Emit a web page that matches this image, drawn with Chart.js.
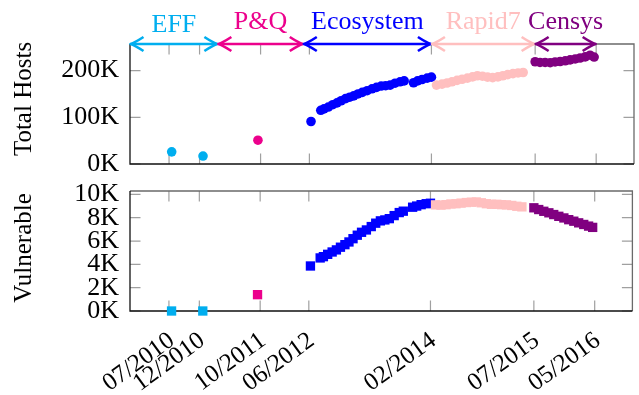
<!DOCTYPE html>
<html><head><meta charset="utf-8">
<script src="https://cdn.jsdelivr.net/npm/chart.js@4/dist/chart.umd.min.js"></script>
<style>
html,body{margin:0;padding:0;background:#fff;}
#wrap{position:relative;width:639px;height:395px;overflow:hidden;background:#fff;}
canvas{position:absolute;left:0;}
</style></head><body>
<div id="wrap">
<canvas id="cTop" width="639" height="180" style="top:0px"></canvas>
<canvas id="cBot" width="639" height="215" style="top:180px"></canvas>
</div>
<script>
// ---------- data ----------
const xTickLabels = ['07/2010','12/2010','10/2011','06/2012','02/2014','07/2015','05/2016'];
const xRange = ['2009-12-19','2016-11-07'];
const hostTicks = [0, 100, 200];      // K
const vulnTicks = [0, 2, 4, 6, 8, 10]; // K
const hostMax = 257;
const vulnMax = 10.29;

const sourceNames  = ['EFF','P&Q','Ecosystem','Rapid7','Censys'];
const sourceColors = ['#00AEEF','#EC008C','#0000FF','#FFBFBF','#800080'];
const sourceSpans  = ['2009-12-19','2011-03-01','2012-05-01','2014-02-01','2015-07-01','2016-05-01'];

const effDates = ['2010-07-14','2010-12-18'];
const effHosts = [26, 17];
const effVuln  = [0, 0];

const pqDates = ['2011-09-18'];
const pqHosts = [51];
const pqVuln  = [1.4];

const ecoDates = ['2012-06-09','2012-07-27','2012-08-13','2012-09-04','2012-09-26','2012-10-17','2012-11-07',
  '2012-11-29','2012-12-19','2013-01-09','2013-01-30','2013-02-21','2013-03-15','2013-04-09','2013-05-01',
  '2013-05-24','2013-06-16','2013-07-08','2013-08-02','2013-08-27','2013-09-17','2013-11-03','2013-11-23',
  '2013-12-15','2014-01-10','2014-02-01'];
const ecoHosts = [91,115,118,122,127,131,135.5,140,143,146,150,153.5,157,161,164,167,167.7,169,173,176,178,
  174,178,181,184,186];
const ecoVuln = [3.86,4.55,4.66,4.86,5.06,5.24,5.47,5.69,5.92,6.2,6.5,6.75,6.95,7.24,7.53,7.73,7.81,7.92,
  8.18,8.44,8.56,8.9,9.0,9.12,9.2,9.24];

const r7Dates = ['2014-02-26','2014-03-23','2014-04-18','2014-05-12','2014-06-07','2014-07-02','2014-07-28',
  '2014-08-23','2014-09-17','2014-10-12','2014-11-07','2014-12-02','2014-12-28','2015-01-22','2015-02-16',
  '2015-03-12','2015-04-07','2015-05-02'];
const r7Hosts = [169,171,173.5,176,179,181.5,184,186.5,189,188,186,185,186.5,189,191.5,193.5,195,196];
const r7Vuln  = [9.1,9.08,9.12,9.18,9.2,9.25,9.3,9.33,9.35,9.28,9.2,9.15,9.15,9.12,9.1,9.05,8.98,8.93];

const cenDates = ['2015-07-01','2015-07-25','2015-08-20','2015-09-15','2015-10-09','2015-11-04','2015-11-29',
  '2015-12-23','2016-01-18','2016-02-12','2016-03-07','2016-04-01','2016-04-21'];
const cenHosts = [219,217.5,217.5,217,218.5,219.5,221,223,225,227,229.5,233,229];
const cenVuln  = [8.85,8.7,8.55,8.42,8.27,8.12,7.98,7.83,7.7,7.56,7.42,7.28,7.17];

// ---------- helpers ----------
const FONT = "'Liberation Serif','Times New Roman',serif";
const TL = 10.5;    // inward tick length

function toM(s){ // months since Jan 2010
  if (s.indexOf('/') >= 0){ const [m,y] = s.split('/').map(Number); return (y-2010)*12 + (m-1); }
  const [y,m,d] = s.split('-').map(Number);
  return (y-2010)*12 + (m-1) + (d-1)/30;
}
function pts(dates, vals){ return dates.map((d,i)=>({x: toM(d), y: vals[i]})); }

const series = [
  {dates: effDates, hosts: effHosts, vuln: effVuln},
  {dates: pqDates,  hosts: pqHosts,  vuln: pqVuln},
  {dates: ecoDates, hosts: ecoHosts, vuln: ecoVuln},
  {dates: r7Dates,  hosts: r7Hosts,  vuln: r7Vuln},
  {dates: cenDates, hosts: cenHosts, vuln: cenVuln},
];

function makeDatasets(key, style, radius){
  return series.map((s,i)=>({
    label: sourceNames[i],
    data: pts(s.dates, s[key]),
    pointStyle: style,
    pointRadius: radius,
    pointHoverRadius: radius,
    pointBackgroundColor: sourceColors[i],
    pointBorderColor: sourceColors[i],
    pointBorderWidth: 0,
    backgroundColor: sourceColors[i],
    borderColor: sourceColors[i],
    showLine: false,
    clip: false,
    order: 10 - i
  }));
}

function drawArrowHead(ctx, x, y, dir){
  ctx.beginPath();
  ctx.moveTo(x - dir*13, y - 7);
  ctx.quadraticCurveTo(x - dir*4, y - 1.2, x, y);
  ctx.quadraticCurveTo(x - dir*4, y + 1.2, x - dir*13, y + 7);
  ctx.stroke();
}

const panelPlugin = {
  id: 'panel',
  beforeDatasetsDraw(chart, args, opts){
    const ctx = chart.ctx, a = chart.chartArea;
    const xs = chart.scales.x, ys = chart.scales.y;
    ctx.save();
    ctx.strokeStyle = '#a0a0a0'; ctx.lineWidth = 1.2;
    ctx.beginPath();
    xTickLabels.forEach(l => {
      const px = xs.getPixelForValue(toM(l));
      ctx.moveTo(px, a.bottom); ctx.lineTo(px, a.bottom - TL);
      ctx.moveTo(px, a.top); ctx.lineTo(px, a.top + TL);
    });
    opts.yTicks.forEach(v => {
      const py = ys.getPixelForValue(v);
      ctx.moveTo(a.left, py); ctx.lineTo(a.left + TL, py);
      ctx.moveTo(a.right, py); ctx.lineTo(a.right - TL, py);
    });
    ctx.stroke();
    ctx.lineWidth = 1.3;
    ctx.strokeStyle = '#6a6a6a';
    ctx.beginPath(); ctx.moveTo(a.left, a.top); ctx.lineTo(a.right, a.top); ctx.lineTo(a.right, a.bottom); ctx.stroke();
    ctx.strokeStyle = '#111';
    ctx.beginPath(); ctx.moveTo(a.left, a.top); ctx.lineTo(a.left, a.bottom); ctx.lineTo(a.right, a.bottom); ctx.stroke();
    // axis title
    ctx.fillStyle = '#000';
    ctx.font = '25px ' + FONT;
    ctx.textAlign = 'center'; ctx.textBaseline = 'middle';
    ctx.translate(opts.titleX, opts.titleY);
    ctx.rotate(-Math.PI/2);
    ctx.fillText(opts.title, 0, 0);
    ctx.restore();
  },
  afterDatasetsDraw(chart, args, opts){
    if (!opts.arrows) return;
    const ctx = chart.ctx, a = chart.chartArea, xs = chart.scales.x;
    const y = a.top;
    ctx.save();
    ctx.lineWidth = 2.6; ctx.lineCap = 'butt'; ctx.lineJoin = 'round';
    for (let i = 0; i < sourceNames.length; i++){
      const x0 = Math.max(a.left, xs.getPixelForValue(toM(sourceSpans[i]))) + 0.5;
      const x1 = xs.getPixelForValue(toM(sourceSpans[i+1])) - 0.5;
      ctx.strokeStyle = sourceColors[i];
      ctx.beginPath(); ctx.moveTo(x0 + 2, y); ctx.lineTo(x1 - 2, y); ctx.stroke();
      drawArrowHead(ctx, x0, y, -1);
      drawArrowHead(ctx, x1, y, 1);
      ctx.fillStyle = sourceColors[i];
      ctx.font = '26px ' + FONT;
      ctx.textAlign = 'center'; ctx.textBaseline = 'alphabetic';
      ctx.fillText(sourceNames[i], (x0 + x1)/2, sourceNames[i] === 'EFF' ? 32 : 29);
    }
    ctx.restore();
  }
};

function xScale(show){
  return {
    type: 'linear', display: show, min: toM(xRange[0]), max: toM(xRange[1]),
    afterBuildTicks: s => { s.ticks = xTickLabels.map(l => ({value: toM(l)})); },
    afterFit: s => { if (show) s.height = 84; s.paddingLeft = 0; s.paddingRight = 0; },
    grid: {display: false, drawTicks: false}, border: {display: false},
    ticks: {autoSkip: false, maxRotation: 36, minRotation: 36, padding: 15, labelOffset: 3, color: '#000',
      font: {family: FONT, size: 25},
      callback: (v, i) => xTickLabels[i]}
  };
}
function yScale(max, tickVals){
  return {
    type: 'linear', min: 0, max: max,
    afterBuildTicks: s => { s.ticks = tickVals.map(v => ({value: v})); },
    afterFit: s => { s.width = 130; s.paddingTop = 0; s.paddingBottom = 0; },
    grid: {display: false, drawTicks: false}, border: {display: false},
    ticks: {autoSkip: false, padding: 11, color: '#000', font: {family: FONT, size: 26}, callback: v => v + 'K'}
  };
}

Chart.defaults.animation = false;

new Chart(document.getElementById('cTop'), {
  type: 'scatter',
  data: {datasets: makeDatasets('hosts', 'circle', 4.8)},
  options: {
    responsive: false, devicePixelRatio: 1, animation: false,
    layout: {padding: {top: 44, right: 5, bottom: 16, left: 0}},
    scales: {x: xScale(false), y: yScale(hostMax, hostTicks)},
    plugins: {legend: {display: false}, tooltip: {enabled: false},
      panel: {yTicks: hostTicks, title: 'Total Hosts', titleX: 24, titleY: 99, arrows: true}}
  },
  plugins: [panelPlugin]
});

new Chart(document.getElementById('cBot'), {
  type: 'scatter',
  data: {datasets: makeDatasets('vuln', 'rect', 6.6)},
  options: {
    responsive: false, devicePixelRatio: 1, animation: false,
    layout: {padding: {top: 11, right: 5, bottom: 0, left: 0}},
    scales: {x: xScale(true), y: yScale(vulnMax, vulnTicks)},
    plugins: {legend: {display: false}, tooltip: {enabled: false},
      panel: {yTicks: vulnTicks, title: 'Vulnerable', titleX: 24, titleY: 68, arrows: false}}
  },
  plugins: [panelPlugin]
});
</script>
</body></html>
